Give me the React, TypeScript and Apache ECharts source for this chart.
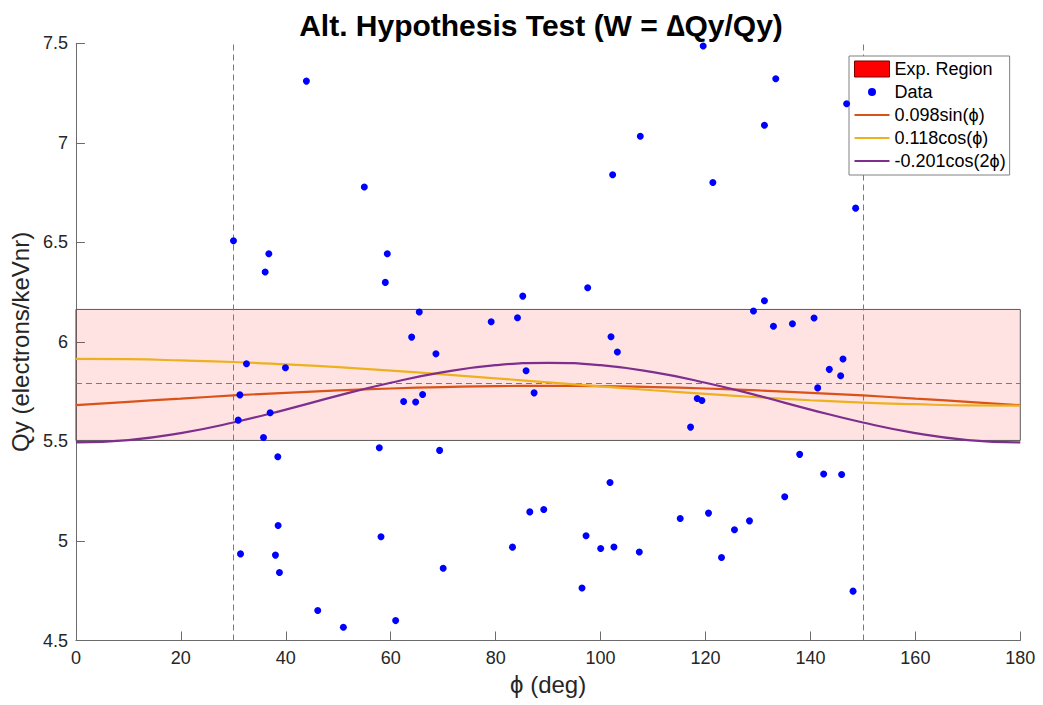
import React, { useEffect, useRef } from "react";
import * as echarts from "echarts";

// ---- data ----
const phi: number[] = [
  30.03, 43.93, 54.97, 36.77, 36.07, 59.35, 58.97, 32.51, 39.93, 31.25,
  37.02, 30.93, 35.75, 38.48, 57.83, 38.54, 58.15, 31.37, 38.03, 38.79,
  46.09, 50.98, 69.32, 70.0, 60.94, 83.21, 86.51, 89.17, 97.23, 96.46,
  100.02, 102.55, 101.8, 107.38, 115.18, 120.57, 123.05, 125.52, 128.38, 135.1,
  137.95, 142.52, 145.95, 148.12, 119.56, 107.57, 102.3, 133.39, 146.9, 131.23,
  121.4, 148.61, 85.17, 97.54, 65.44, 79.15, 84.16, 63.99, 68.62, 101.99,
  103.2, 85.8, 87.33, 62.46, 64.75, 66.08, 118.42, 119.31, 117.15, 131.23,
  129.14, 132.95, 136.57, 140.69, 146.21, 143.6, 145.76, 141.38,
];
const qy: number[] = [
  6.508, 7.31, 6.778, 6.443, 6.351, 6.443, 6.299, 5.89, 5.87, 5.734,
  5.644, 5.607, 5.52, 5.423, 5.468, 5.078, 5.021, 4.935, 4.929, 4.842,
  4.651, 4.567, 5.455, 4.863, 4.6, 4.969, 5.146, 5.158, 5.026, 4.764,
  4.962, 4.97, 5.294, 4.945, 5.113, 5.14, 4.917, 5.056, 5.101, 5.222,
  5.435, 5.336, 5.334, 4.748, 7.486, 7.033, 6.84, 7.322, 7.196, 7.088,
  6.801, 6.672, 6.23, 6.272, 6.15, 6.101, 6.121, 6.024, 5.94, 6.026,
  5.949, 5.855, 5.744, 5.701, 5.698, 5.736, 5.716, 5.706, 5.572, 6.207,
  6.155, 6.079, 6.091, 6.12, 5.914, 5.862, 5.83, 5.769,
];

const curvePhi: number[] = [0, 10, 20, 30, 40, 50, 60, 70, 80, 90, 100, 110, 120, 130, 140, 150, 160, 170, 180];
const sinCurve: number[] = [5.682, 5.699, 5.715, 5.731, 5.744, 5.756, 5.766, 5.773, 5.778, 5.779, 5.778, 5.773, 5.766, 5.756, 5.744, 5.731, 5.715, 5.699, 5.682];
const cosCurve: number[] = [5.915, 5.913, 5.907, 5.899, 5.887, 5.873, 5.856, 5.837, 5.817, 5.797, 5.777, 5.757, 5.739, 5.722, 5.707, 5.695, 5.687, 5.681, 5.68];
const cos2Curve: number[] = [5.495, 5.507, 5.542, 5.595, 5.66, 5.73, 5.795, 5.848, 5.883, 5.895, 5.883, 5.848, 5.795, 5.73, 5.66, 5.595, 5.542, 5.507, 5.495];

const regionLow = 5.505;
const regionHigh = 6.163;
const meanLevel = 5.785;
const cutLow = 30;
const cutHigh = 150;

const seriesNames = ["Exp. Region", "Data", "0.098sin(\u03d5)", "0.118cos(\u03d5)", "-0.201cos(2\u03d5)"];

const FONT = "Liberation Sans, Arial, Helvetica, sans-serif";

export default function App() {
  const ref = useRef<HTMLDivElement>(null);
  useEffect(() => {
    if (!ref.current) return;
    const chart = echarts.init(ref.current, undefined, { renderer: "svg" });
    const pts = phi.map((p, i) => [p, qy[i]]);
    const line = (vals: number[]) => curvePhi.map((p, i) => [p, vals[i]]);
    const lineIcon = "path://M0,0 M35,16 M0,7 L35,7 L35,9 L0,9 Z";
    const dotIcon = "path://M0,0 M35,16 M13.5,8 A4,4 0 1,0 21.5,8 A4,4 0 1,0 13.5,8 Z";
    chart.setOption({
      animation: false,
      textStyle: { fontFamily: FONT },
      title: {
        text: "Alt. Hypothesis Test (W = \u2206Qy/Qy)",
        left: 536,
        top: 5,
        textAlign: "center",
        textStyle: { fontSize: 30, fontWeight: "bold", color: "#000", fontFamily: FONT },
      },
      grid: { left: 74.5, right: 22.7, top: 43.3, bottom: 64.5, containLabel: false },
      legend: {
        orient: "vertical",
        left: 849,
        top: 56,
        padding: [4, 4, 5, 5],
        backgroundColor: "#fff",
        borderColor: "#808080",
        borderWidth: 1,
        itemWidth: 35,
        itemHeight: 16,
        itemGap: 5,
        textStyle: { fontSize: 18, color: "#000", fontFamily: FONT },
        data: [
          { name: seriesNames[0], icon: "rect", itemStyle: { color: "#ff0000", borderColor: "#7a0000", borderWidth: 1 } },
          { name: seriesNames[1], icon: dotIcon, itemStyle: { color: "#0000ff", opacity: 1 } },
          { name: seriesNames[2], icon: lineIcon, itemStyle: { color: "#D95319" } },
          { name: seriesNames[3], icon: lineIcon, itemStyle: { color: "#EDB120" } },
          { name: seriesNames[4], icon: lineIcon, itemStyle: { color: "#7E2F8E" } },
        ],
      },
      xAxis: {
        type: "value",
        min: 0,
        max: 180,
        interval: 20,
        name: "\u03d5 (deg)",
        nameLocation: "middle",
        nameGap: 32,
        nameTextStyle: { fontSize: 24, color: "#262626", fontFamily: FONT },
        axisLine: { show: true, lineStyle: { color: "#6b6b6b", width: 1 } },
        axisTick: { show: true, inside: true, length: 9, lineStyle: { color: "#6b6b6b" } },
        axisLabel: { fontSize: 18, color: "#262626", margin: 8 },
        splitLine: { show: false },
      },
      yAxis: {
        type: "value",
        min: 4.5,
        max: 7.5,
        interval: 0.5,
        name: "Qy (electrons/keVnr)",
        nameLocation: "middle",
        nameGap: 36,
        nameRotate: 90,
        nameTextStyle: { fontSize: 24, color: "#262626", fontFamily: FONT },
        axisLine: { show: true, lineStyle: { color: "#6b6b6b", width: 1 } },
        axisTick: { show: true, inside: true, length: 9, lineStyle: { color: "#6b6b6b" } },
        axisLabel: { fontSize: 18, color: "#262626", margin: 8 },
        splitLine: { show: false },
      },
      series: [
        {
          name: seriesNames[0],
          type: "line",
          data: [],
          z: 1,
          symbol: "none",
          itemStyle: { color: "#ff0000" },
          markArea: {
            silent: true,
            z: 1,
            itemStyle: { color: "rgba(255,0,0,0.11)", borderColor: "#595959", borderWidth: 1 },
            data: [[{ yAxis: regionLow, xAxis: 0 }, { yAxis: regionHigh, xAxis: 180 }]],
          },
          markLine: {
            silent: true,
            z: 1,
            symbol: ["none", "none"],
            label: { show: false },
            lineStyle: { type: [6, 4], color: "#7a7a7a", width: 1 },
            data: [{ xAxis: cutLow }, { xAxis: cutHigh }, { yAxis: meanLevel }],
          },
        },
        {
          name: seriesNames[1],
          type: "scatter",
          data: pts,
          z: 4,
          symbol: "circle",
          symbolSize: 7,
          itemStyle: { color: "#0000ff", opacity: 1 },
        },
        {
          name: seriesNames[2],
          type: "line",
          data: line(sinCurve),
          smooth: true,
          symbol: "none",
          z: 3,
          itemStyle: { color: "#D95319" },
          lineStyle: { color: "#D95319", width: 2.2 },
        },
        {
          name: seriesNames[3],
          type: "line",
          data: line(cosCurve),
          smooth: true,
          symbol: "none",
          z: 3,
          itemStyle: { color: "#EDB120" },
          lineStyle: { color: "#EDB120", width: 2.2 },
        },
        {
          name: seriesNames[4],
          type: "line",
          data: line(cos2Curve),
          smooth: true,
          symbol: "none",
          z: 3,
          itemStyle: { color: "#7E2F8E" },
          lineStyle: { color: "#7E2F8E", width: 2.2 },
        },
      ],
    });
    return () => chart.dispose();
  }, []);
  return (
    <div
      ref={ref}
      style={{ position: "fixed", left: 0, top: 0, width: 1043, height: 705, background: "#fff" }}
    />
  );
}
